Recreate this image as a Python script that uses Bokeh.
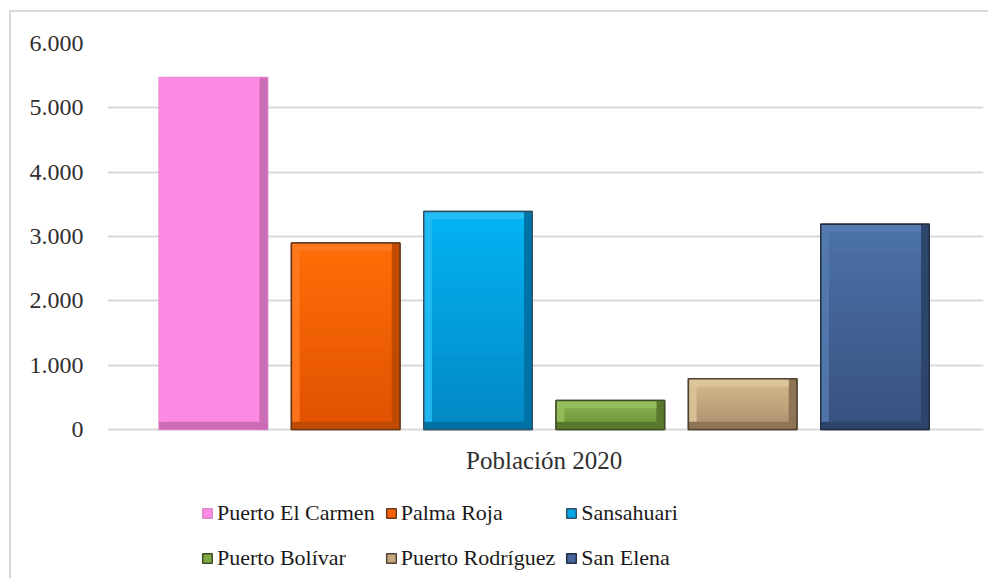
from bokeh.plotting import figure
from bokeh.models import FixedTicker, Legend, LegendItem, ColumnDataSource, Label
from bokeh.embed import file_html
from bokeh.resources import INLINE

# ---- data ----
towns = ["Puerto El Carmen", "Palma Roja", "Sansahuari",
         "Puerto Bolívar", "Puerto Rodríguez", "San Elena"]
population = [5470, 2900, 3390, 450, 790, 3190]
y_ticks = [0, 1000, 2000, 3000, 4000, 5000, 6000]
y_tick_labels = ["0", "1.000", "2.000", "3.000", "4.000", "5.000", "6.000"]
category_label = "Población 2020"

# ---- styles ----
face = ["#FC8AE3", "#F96307", "#05A6E6", "#7FA743", "#C6A97E", "#44659A"]
face_top = ["#FC8AE3", "#FF6E08", "#03B4F4", "#8DB653", "#D8BC8F", "#4C72AA"]
face_bottom = ["#FC8AE3", "#E05000", "#0387C4", "#6B9035", "#AA8F6D", "#38507E"]
light = ["#FC8AE3", "#FF7A1E", "#25BDF6", "#96BE5C", "#DEC49A", "#5579B0"]
dark = ["#CB6DB5", "#C04A00", "#0073A6", "#5A782B", "#8E7556", "#2D456B"]
outline = ["#D98ACB", "#6B3A1A", "#2E5266", "#3E4E26", "#4F4232", "#222E42"]
outline_alpha = [0.0, 1, 1, 1, 1, 1]

FONT = "Liberation Serif"
W = 0.82      # bar width (x units)
BX = 0.062    # bevel width (x units)
BY = 120      # bevel height (y units)
BANDS = 30    # gradient bands per bar

# layout (pixels inside the canvas)
TOP_PAD = 31            # canvas top -> 6.000 gridline
VALUE_PX = 386          # 0 .. 6.000 span
EXTRA_PX = 146          # room under the 0 line for category label + legend
LABEL_PX = 31           # 0 line -> category label centre
y_max = y_ticks[-1]
y_min = -y_max * EXTRA_PX / VALUE_PX
label_y = -y_max * LABEL_PX / VALUE_PX

n = len(towns)
xs = [i + 1 for i in range(n)]


def mix(c1, c2, t):
    a = [int(c1[k:k + 2], 16) for k in (1, 3, 5)]
    b = [int(c2[k:k + 2], 16) for k in (1, 3, 5)]
    return "#%02x%02x%02x" % tuple(round(a[j] + (b[j] - a[j]) * t) for j in range(3))


src = ColumnDataSource(dict(
    x=xs, top=population, face=face, light=light, dark=dark,
    outline=outline, oalpha=outline_alpha, town=towns,
    x_right=[x + W / 2 - BX / 2 for x in xs],
    x_left=[x - W / 2 + BX / 2 for x in xs],
    x_top=[x - BX / 2 for x in xs],
    top_in=[v - BY for v in population],
))

# vertical gradient bands of each bar's face
gx, gb, gt, gc = [], [], [], []
for i in range(n):
    v = population[i]
    for k in range(BANDS):
        gx.append(xs[i])
        gb.append(v * k / BANDS)
        gt.append(v * (k + 1) / BANDS + (v / BANDS * 0.3 if k < BANDS - 1 else 0))
        gc.append(mix(face_bottom[i], face_top[i], (k + 0.5) / BANDS))
grad = ColumnDataSource(dict(x=gx, bottom=gb, top=gt, color=gc))

p = figure(width=979, height=568, x_range=(0.2, 6.82), y_range=(y_min, y_max),
           output_backend="svg", toolbar_location=None, x_axis_location=None,
           min_border_left=96, min_border_right=7, min_border_top=TOP_PAD,
           min_border_bottom=568 - TOP_PAD - VALUE_PX - EXTRA_PX,
           styles={"margin-left": "9px", "margin-top": "10px",
                   "border-left": "2px solid #d9d9d9",
                   "border-top": "2px solid #d9d9d9"})
p.outline_line_color = None
p.background_fill_color = "white"
p.border_fill_color = "white"

# grid
p.xgrid.visible = False
p.ygrid.ticker = FixedTicker(ticks=y_ticks)
p.ygrid.grid_line_color = "#d9d9d9"
p.ygrid.grid_line_width = 2

# y axis
p.yaxis.ticker = FixedTicker(ticks=y_ticks)
p.yaxis.major_label_overrides = {t: l for t, l in zip(y_ticks, y_tick_labels)}
p.yaxis.axis_line_color = None
p.yaxis.major_tick_line_color = None
p.yaxis.minor_tick_line_color = None
p.yaxis.major_tick_out = 0
p.yaxis.major_tick_in = 0
p.yaxis.major_label_standoff = 24
p.yaxis.major_label_text_font = FONT
p.yaxis.major_label_text_font_size = "24px"
p.yaxis.major_label_text_color = "#303030"

# bars with bevel
outer = p.vbar(x="x", width=W, top="top", bottom=0, source=src,
               fill_color="face", line_color="outline", line_width=1.5)
p.vbar(x="x", width=W, top="top", bottom="bottom", source=grad,
       fill_color="color", line_color=None)
p.vbar(x="x_right", width=BX, top="top", bottom=0, source=src,
       fill_color="dark", line_color=None)
p.vbar(x="x", width=W, top=BY, bottom=0, source=src,
       fill_color="dark", line_color=None)
p.vbar(x="x_left", width=BX, top="top", bottom=BY, source=src,
       fill_color="light", fill_alpha=0.85, line_color=None)
p.vbar(x="x_top", width=W - BX, top="top", bottom="top_in", source=src,
       fill_color="light", line_color=None)
p.vbar(x="x", width=W, top="top", bottom=0, source=src,
       fill_color=None, line_color="outline", line_alpha="oalpha",
       line_width=1.5)

# category label under the bars
center = sum(xs) / n
p.add_layout(Label(x=center, y=label_y, text=category_label,
                   text_font=FONT, text_font_size="25px", text_color="#303030",
                   text_align="center", text_baseline="middle"))

legend = Legend(
    items=[LegendItem(label=towns[i], renderers=[outer], index=i) for i in range(n)],
    location=(94, 0), orientation="horizontal", ncols=3,
    padding=0, margin=0, spacing=10, label_height=35,
    glyph_width=12, glyph_height=12, label_standoff=4,
    label_text_font=FONT, label_text_font_size="22px",
    label_text_color="#1a1a1a",
    background_fill_alpha=0, border_line_color=None,
)
p.add_layout(legend)

open("out.html", "w").write(file_html(p, INLINE))
